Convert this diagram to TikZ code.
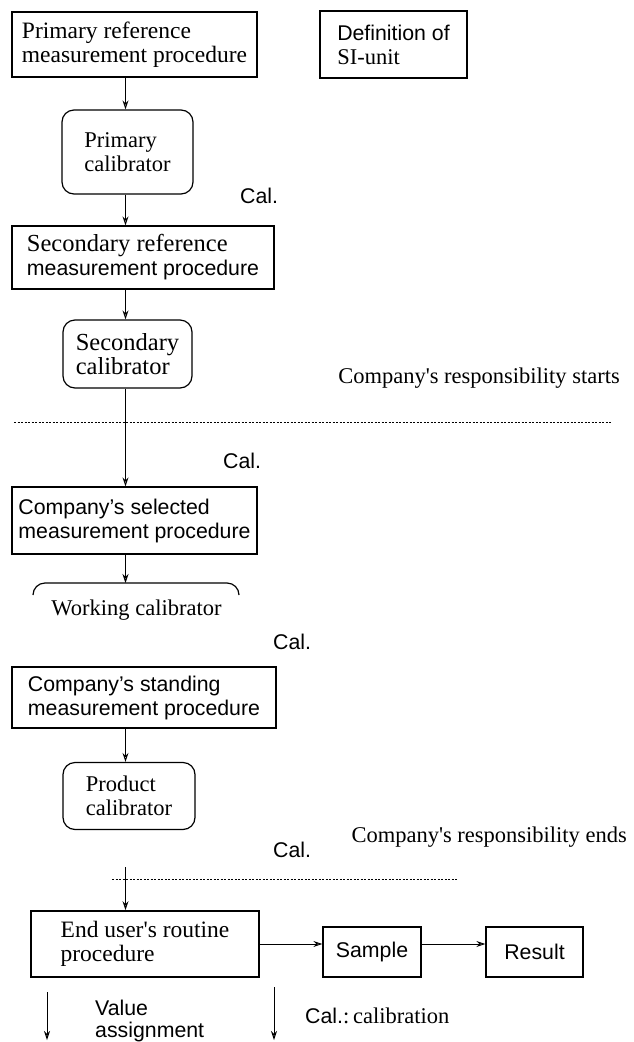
\documentclass[tikz,border=0pt]{standalone}
\usepackage{fontspec}
\setmainfont{Liberation Serif}
\setsansfont{Liberation Sans}
\usetikzlibrary{arrows.meta}
\newcommand{\serfnt}{\fontsize{22.5}{24}\selectfont\rmfamily}
\newcommand{\serfntb}{\fontsize{23.5}{24}\selectfont\rmfamily}
\newcommand{\serfntc}{\fontsize{24.5}{24}\selectfont\rmfamily}
\newcommand{\sanfnt}{\fontsize{21.3}{24}\selectfont\sffamily}
\begin{document}
\begin{tikzpicture}[x=1pt,y=-1pt,
  box/.style={draw,line width=1.2pt,inner sep=0pt,align=left,font=\serfnt},
  rbox/.style={box,rounded corners=12pt},
  flow/.style={draw,line width=1pt,-{Stealth[open,length=9pt,width=6pt]}},
  lbl/.style={inner sep=0pt,anchor=base west,font=\sanfnt},
  sep/.style={draw,line width=0.9pt,dash pattern=on 2pt off 1.5pt}]
\useasboundingbox (0,0) rectangle (634,1042);
\coordinate (ax) at (125.5,0);
% boxes
\node[box,minimum width=245pt,minimum height=65pt,font=\serfntb] (p1) at (134.5,44.5) {Primary reference\\measurement procedure};
\node[box,minimum width=147pt,minimum height=67pt] (si) at (393.5,44.5) {{\sanfnt Definition of}\\SI-unit};
\node[rbox,minimum width=131pt,minimum height=84pt] (pc) at (127.5,152) {Primary\\calibrator};
\node[box,minimum width=262pt,minimum height=63pt,font=\serfntc] (srp) at (143,257.5) {Secondary reference\\{\sanfnt measurement procedure}};
\node[rbox,minimum width=129pt,minimum height=68pt,font=\serfntc] (sc) at (127.5,354) {Secondary\\calibrator};
\node[box,minimum width=245pt,minimum height=67pt,font=\sanfnt] (cs) at (134.5,520.5) {Company's selected\\measurement procedure};
\coordinate (wctop) at (125.5,583);
\node[inner sep=0pt,font=\serfnt] (wc) at (136.5,610) {Working calibrator};
\node[box,minimum width=264pt,minimum height=61pt,font=\sanfnt] (cst) at (144,697.5) {Company's standing\\measurement procedure};
\node[rbox,minimum width=132pt,minimum height=67pt] (pr) at (129,796) {Product\\calibrator};
\node[box,line width=1.8pt,minimum width=228pt,minimum height=66pt,font=\serfntb] (eu) at (145,944) {End user\textquotesingle s routine\\procedure};
\node[box,minimum width=98pt,minimum height=50pt,font=\sanfnt] (sa) at (372,952) {Sample};
\node[box,minimum width=97pt,minimum height=50pt,font=\sanfnt] (re) at (534.5,952) {Result};
% labels
\node[lbl] (c1) at (240,203) {Cal.};
\node[lbl] (c2) at (223,468) {Cal.};
\node[lbl] (c3) at (273,649) {Cal.};
\node[lbl] (c4) at (273,857) {Cal.};
\node[inner sep=0pt,anchor=base east,font=\serfnt] (st) at (620,383) {Company\textquotesingle s responsibility starts};
\node[inner sep=0pt,anchor=base east,font=\serfnt] (en) at (627,842) {Company\textquotesingle s responsibility ends};
\node[inner sep=0pt,anchor=base west,font=\sanfnt] (va1) at (95,1015) {Value};
\node[inner sep=0pt,anchor=base west,font=\sanfnt] (va2) at (95,1037) {assignment};
\node[inner sep=0pt,anchor=base west] (cc) at (305,1023) {{\sanfnt Cal.}{\serfnt:\,calibration}};
% working calibrator top
\draw[line width=1.2pt,rounded corners=12pt] (33,595) -- (33,583) -- (239,583) -- (239,595);
% separators
\coordinate (s1a) at (14,422); \coordinate (s1b) at (612,422);
\coordinate (s2a) at (112,879); \coordinate (s2b) at (457,879);
\path[sep] (s1a) -- (s1b);
\path[sep] (s2a) -- (s2b);
% flows
\path[flow] (p1.south -| ax) -- (pc.north -| ax);
\path[flow] (pc.south -| ax) -- (srp.north -| ax);
\path[flow] (srp.south -| ax) -- (sc.north -| ax);
\path[flow] (sc.south -| ax) -- (cs.north -| ax);
\path[flow] (cs.south -| ax) -- (wctop);
\path[flow] (cst.south -| ax) -- (pr.north -| ax);
\coordinate (eutop) at (125.5,867);
\path[flow] (eutop) -- (eu.north -| ax);
\path[flow] (eu.east |- 0,944) -- (sa.west |- 0,944);
\path[flow] (sa.east |- 0,944) -- (re.west |- 0,944);
% legend
\coordinate (l1a) at (47,992); \coordinate (l1b) at (47,1040);
\coordinate (l2a) at (274,987); \coordinate (l2b) at (274,1040);
\path[flow] (l1a) -- (l1b);
\path[flow] (l2a) -- (l2b);
\end{tikzpicture}
\end{document}
